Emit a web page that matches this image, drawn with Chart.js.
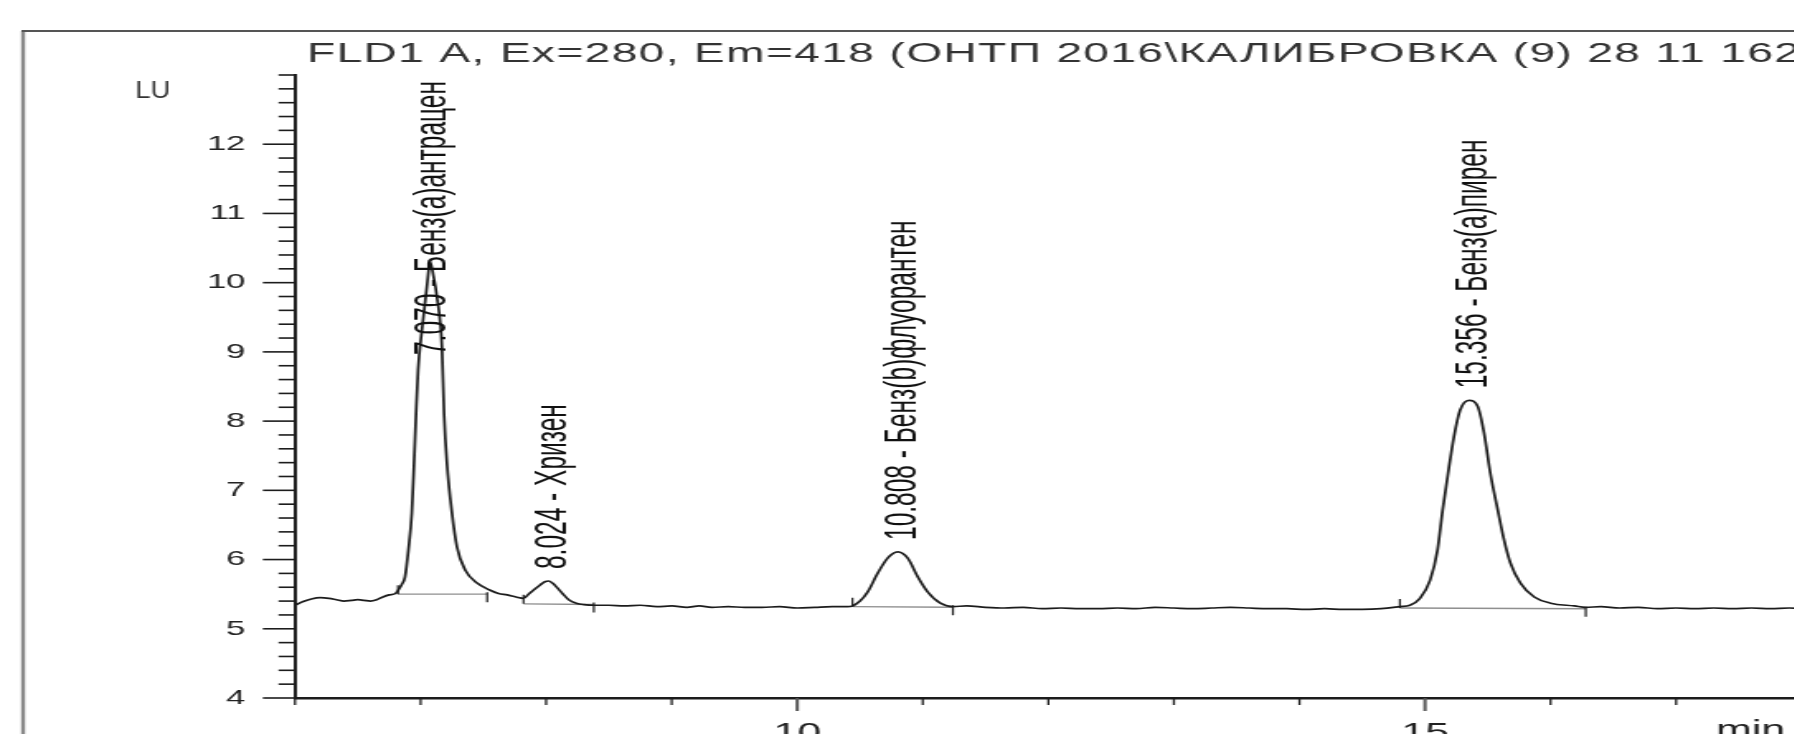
<!DOCTYPE html>
<html>
<head>
<meta charset="utf-8">
<script src="https://cdn.jsdelivr.net/npm/chart.js@4.4.0/dist/chart.umd.min.js"></script>
<style>
  html, body { margin: 0; padding: 0; background: #fff; overflow: hidden; width: 1794px; height: 734px; }
  /* the printout is stretched sideways, so the whole chart is too */
  #stretch { position: absolute; left: 0; top: 0; transform: scaleX(1.65); transform-origin: 0 0; }
</style>
</head>
<body>
<div id="stretch"><canvas id="chrom" width="1190" height="800"></canvas></div>
<script>
// FLD signal: time (min) and signal (LU)
const traceTime = [
  6.00, 6.06, 6.13, 6.20, 6.27, 6.33, 6.39, 6.45, 6.50, 6.55, 6.60, 6.65, 6.70, 6.75, 6.80,
  6.823, 6.85, 6.876, 6.903, 6.93, 6.948, 6.964, 6.98, 7.01, 7.05, 7.076, 7.10, 7.13, 7.17,
  7.187, 7.21, 7.25, 7.29, 7.355, 7.45, 7.55, 7.62, 7.69, 7.76, 7.82,
  7.86, 7.90, 7.95, 7.99, 8.02, 8.05, 8.09, 8.13, 8.18, 8.24, 8.30, 8.38,
  8.50, 8.62, 8.75, 8.88, 9.00, 9.12, 9.22, 9.32, 9.45, 9.58, 9.72, 9.86, 10.00, 10.14, 10.28, 10.40, 10.44,
  10.50, 10.56, 10.64, 10.72, 10.80, 10.88, 10.96, 11.04, 11.14, 11.24,
  11.35, 11.50, 11.65, 11.80, 11.95, 12.10, 12.25, 12.40, 12.55, 12.70, 12.85, 13.00, 13.15,
  13.30, 13.45, 13.60, 13.75, 13.90, 14.05, 14.20, 14.35, 14.50, 14.65, 14.80,
  14.88, 14.96, 15.04, 15.10, 15.14, 15.18, 15.23, 15.28, 15.35, 15.42, 15.47, 15.52, 15.58,
  15.63, 15.68, 15.76, 15.87, 16.00, 16.19, 16.28,
  16.40, 16.55, 16.70, 16.85, 17.00, 17.15, 17.30, 17.45, 17.60, 17.75, 17.90, 18.05, 18.20
];
const traceLU = [
  5.34, 5.39, 5.43, 5.45, 5.44, 5.42, 5.40, 5.41, 5.42, 5.41, 5.40, 5.42, 5.46, 5.49, 5.51,
  5.56, 5.64, 5.75, 6.14, 6.67, 7.39, 8.11, 8.74, 9.31, 9.94, 10.30, 10.12, 9.80, 9.07,
  8.11, 7.39, 6.67, 6.18, 5.85, 5.66, 5.56, 5.51, 5.49, 5.46, 5.44,
  5.50, 5.56, 5.63, 5.68, 5.69, 5.66, 5.59, 5.51, 5.42, 5.37, 5.35, 5.34,
  5.34, 5.33, 5.34, 5.32, 5.33, 5.31, 5.33, 5.31, 5.32, 5.31, 5.31, 5.32, 5.30, 5.31, 5.32, 5.32, 5.33,
  5.40, 5.53, 5.80, 6.02, 6.11, 6.02, 5.75, 5.53, 5.37, 5.32,
  5.33, 5.31, 5.30, 5.31, 5.29, 5.30, 5.29, 5.29, 5.30, 5.29, 5.31, 5.30, 5.29,
  5.30, 5.31, 5.30, 5.29, 5.29, 5.28, 5.29, 5.28, 5.28, 5.29, 5.32,
  5.34, 5.44, 5.70, 6.14, 6.71, 7.20, 7.77, 8.16, 8.30, 8.21, 7.83, 7.25, 6.71,
  6.28, 5.95, 5.66, 5.46, 5.37, 5.33, 5.31,
  5.32, 5.30, 5.31, 5.29, 5.30, 5.29, 5.30, 5.29, 5.30, 5.29, 5.30, 5.29, 5.30
];

// integrated peaks
const peakTime = [7.070, 8.024, 10.808, 15.356];
const peakApex = [10.30, 5.69, 6.11, 8.30];
const peakName = ["Бенз(а)антрацен", "Хризен", "Бенз(b)флуорантен", "Бенз(а)пирен"];

// integration baselines under the peaks
const baseFrom = [6.82, 7.82, 10.44, 14.80];
const baseTo = [7.53, 8.38, 11.24, 16.28];
const baseFromLU = [5.50, 5.36, 5.32, 5.30];
const baseToLU = [5.50, 5.35, 5.31, 5.29];

// axes
const xLabelled = [10, 15];
const yMin = 4, yMax = 13;
const xMin = 6, xMax = 19;
const titleText = "FLD1 A, Ex=280, Em=418 (ОНТП 2016\\КАЛИБРОВКА (9) 28 11 162";
const yUnit = "LU";
const xUnit = "min";

const FONT = '"Liberation Sans", Arial, sans-serif';
const INK = '#1c1c1c';

let traceData = traceTime.map((t, i) => ({ x: t, y: traceLU[i] }));
let baseData = [];
for (let i = 0; i < baseFrom.length; i++) {
  baseData.push({ x: baseFrom[i], y: baseFromLU[i] });
  baseData.push({ x: baseTo[i], y: baseToLU[i] });
  baseData.push({ x: baseTo[i] + 0.001, y: null });
}

function isWhole(v) {
  return Math.abs(v - Math.round(v)) < 1e-6;
}

const chromDecor = {
  id: 'chromDecor',
  beforeDraw(chart) {
    const c = chart.ctx;
    c.save();
    // frame of the printout
    c.strokeStyle = '#8a8a8a';
    c.lineWidth = 2.4;
    c.beginPath();
    c.moveTo(14, 900);
    c.lineTo(14, 31);
    c.stroke();
    c.strokeStyle = '#555';
    c.lineWidth = 2;
    c.beginPath();
    c.moveTo(13, 31);
    c.lineTo(1400, 31);
    c.stroke();
    // title
    c.fillStyle = '#333';
    c.font = '28px ' + FONT;
    c.letterSpacing = '0.8px';
    c.textBaseline = 'alphabetic';
    c.fillText(titleText, 186, 62);
    c.letterSpacing = '0px';
    // unit of the signal, less stretched than the rest
    c.font = '23px ' + FONT;
    c.scale(0.72, 1);
    c.fillText(yUnit, 82 / 0.72, 98);
    c.restore();
  },
  afterDatasetsDraw(chart) {
    const c = chart.ctx;
    const { x, y } = chart.scales;
    const area = chart.chartArea;
    c.save();
    // start / end marks of each baseline
    c.strokeStyle = INK;
    c.lineWidth = 1.2;
    for (let i = 0; i < baseFrom.length; i++) {
      let x0 = x.getPixelForValue(baseFrom[i]), y0 = y.getPixelForValue(baseFromLU[i]);
      let x1 = x.getPixelForValue(baseTo[i]), y1 = y.getPixelForValue(baseToLU[i]);
      c.beginPath();
      c.moveTo(x0, y0);
      c.lineTo(x0, y0 - 9);
      c.moveTo(x1, y1 - 2);
      c.lineTo(x1, y1 + 8);
      c.stroke();
    }
    // peak labels, rotated
    c.fillStyle = '#111';
    c.font = '24.5px ' + FONT;
    c.textBaseline = 'alphabetic';
    for (let i = 0; i < peakTime.length; i++) {
      let txt = peakTime[i].toFixed(3) + ' - ' + peakName[i];
      let w = c.measureText(txt).width;
      let yStart = y.getPixelForValue(peakApex[i]) - 12;
      if (yStart - w < area.top - 4) yStart = area.top + 6 + w;
      c.save();
      c.translate(x.getPixelForValue(peakTime[i]) + 10, yStart);
      c.rotate(-Math.PI / 2);
      c.scale(1, 1.12);
      c.fillText(txt, 0, 0);
      c.restore();
    }
    c.restore();
  },
  afterDraw(chart) {
    const c = chart.ctx;
    const { x, y } = chart.scales;
    c.save();
    c.strokeStyle = INK;
    // y tick marks: long at whole LU, short in between
    c.lineWidth = 1.6;
    y.ticks.forEach(t => {
      let py = y.getPixelForValue(t.value);
      let len = isWhole(t.value) && t.value < yMax ? 19.5 : 10;
      c.beginPath();
      c.moveTo(y.right - len, py);
      c.lineTo(y.right, py);
      c.stroke();
    });
    // x tick marks
    x.ticks.forEach(t => {
      let px = x.getPixelForValue(t.value);
      let major = xLabelled.includes(Math.round(t.value));
      c.lineWidth = major ? 2 : 1.3;
      c.strokeStyle = major ? '#555' : INK;
      c.beginPath();
      c.moveTo(px, x.top);
      c.lineTo(px, x.top + (major ? 13 : 7));
      c.stroke();
    });
    c.fillStyle = '#222';
    c.font = '26px ' + FONT;
    c.textBaseline = 'top';
    c.fillText(xUnit, 1040, 718);
    c.restore();
  }
};

new Chart(document.getElementById('chrom'), {
  type: 'line',
  data: {
    datasets: [
      {
        data: traceData,
        borderColor: INK,
        borderWidth: 1.7,
        pointRadius: 0,
        cubicInterpolationMode: 'monotone',
        order: 1
      },
      {
        data: baseData,
        borderColor: '#8f8f8f',
        borderWidth: 1.4,
        pointRadius: 0,
        spanGaps: false,
        order: 2
      }
    ]
  },
  options: {
    responsive: false,
    animation: false,
    layout: { padding: { left: 0, top: 75, right: 22, bottom: 0 } },
    plugins: { legend: { display: false }, tooltip: { enabled: false }, title: { display: false } },
    scales: {
      x: {
        type: 'linear',
        min: xMin,
        max: xMax,
        afterFit: s => { s.height = 102; },
        grid: { display: false, drawTicks: false },
        border: { display: true, color: INK, width: 2.5 },
        ticks: {
          stepSize: 1,
          autoSkip: false,
          maxRotation: 0,
          padding: 20,
          color: '#222',
          font: { family: FONT, size: 26 },
          callback: v => xLabelled.includes(Math.round(v)) && isWhole(v) ? String(Math.round(v)) : ''
        }
      },
      y: {
        min: yMin,
        max: yMax,
        afterFit: s => { s.width = 178.8; },
        grid: { display: false, drawTicks: false },
        border: { display: true, color: INK, width: 2 },
        ticks: {
          stepSize: 0.2,
          autoSkip: false,
          padding: 30,
          color: '#222',
          font: { family: FONT, size: 21 },
          callback: v => isWhole(v) && Math.round(v) < yMax ? String(Math.round(v)) : ''
        }
      }
    }
  },
  plugins: [chromDecor]
});
</script>
</body>
</html>
